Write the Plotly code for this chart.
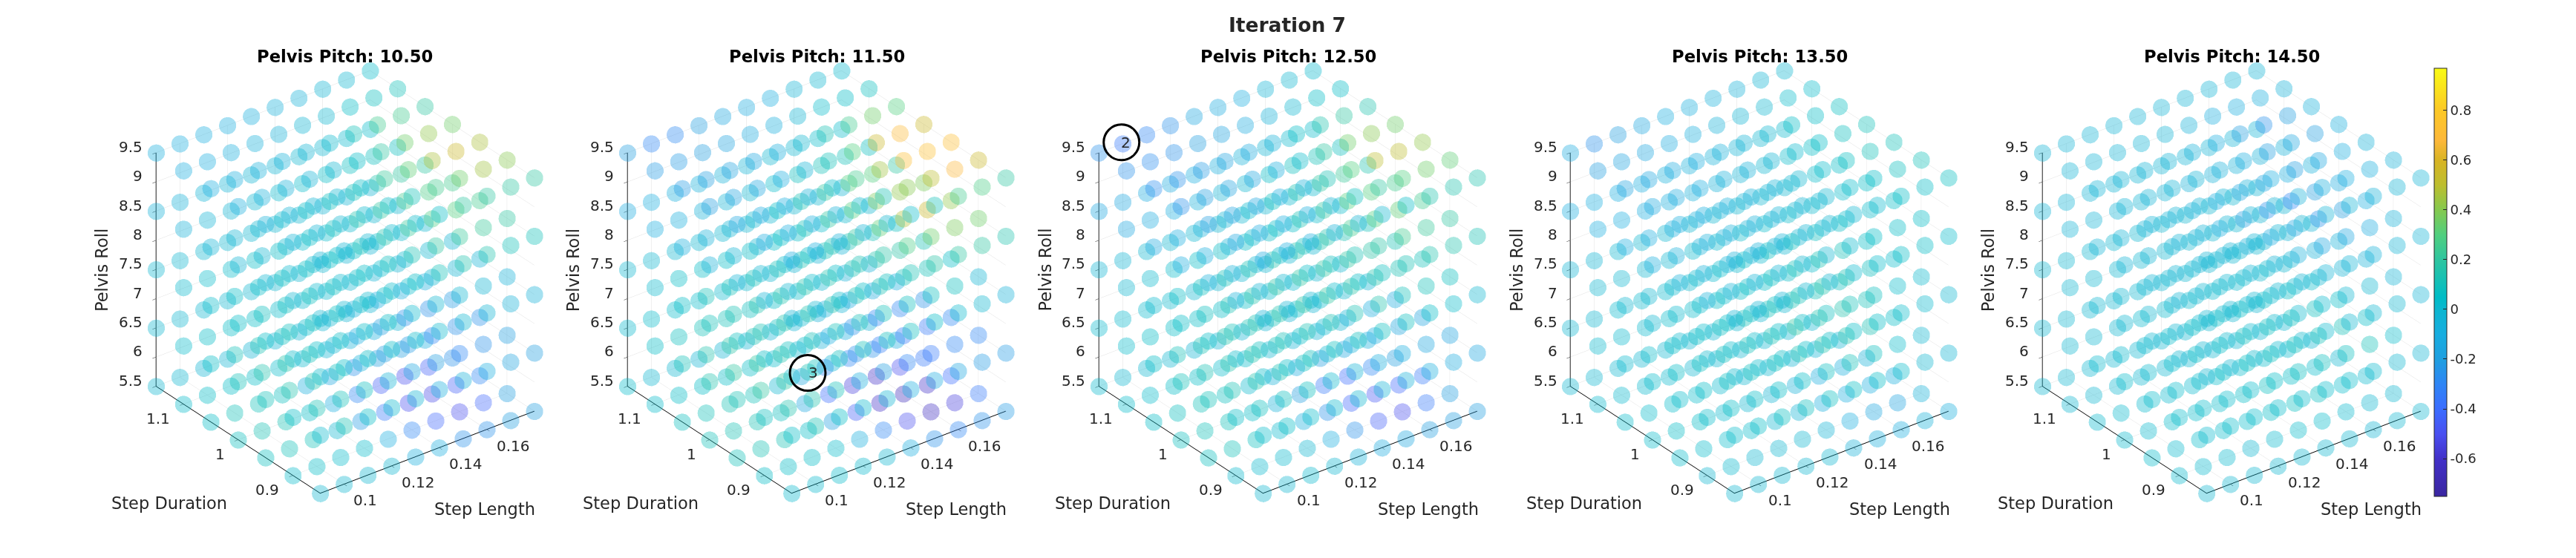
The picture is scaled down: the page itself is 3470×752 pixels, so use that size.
import plotly.graph_objects as go

step_length = [.09, .10, .11, .12, .13, .14, .15, .16, .17, .18]
step_duration = [.85, .90, .95, 1.0, 1.05, 1.10, 1.15]
pelvis_roll = [5.5, 6.5, 7.5, 8.5, 9.5]
pitch_labels = ["10.50", "11.50", "12.50", "13.50", "14.50"]
z_ticks = [5.5, 6, 6.5, 7, 7.5, 8, 8.5, 9, 9.5]
z_text = ["5.5", "6", "6.5", "7", "7.5", "8", "8.5", "9", "9.5"]
x_ticks = [.10, .12, .14, .16]
x_text = ["0.1", "0.12", "0.14", "0.16"]
y_ticks = [.9, 1.0, 1.1]
y_text = ["0.9", "1", "1.1"]
cbar_ticks = [-.6, -.4, -.2, 0, .2, .4, .6, .8]
cbar_text = ["-0.6", "-0.4", "-0.2", "0", "0.2", "0.4", "0.6", "0.8"]

# each list: roll 5.5 to 9.5, in each 7 rows of duration .85 to 1.15, each row 10 step lengths
pitch_105 = [
 .0,.0,.0,.0,-.08,-.1,-.25,-.25,-.2,-.2, .03,.05,.03,.03,-.1,-.3,-.42,-.5,-.42,-.2,
 .08,.1,.1,.0,-.22,-.35,-.5,-.52,-.45,-.3, .08,.12,.12,.05,-.1,-.3,-.45,-.5,-.45,-.25,
 .05,.1,.1,.08,-.08,-.15,-.25,-.2,-.2,-.1, .03,.05,.05,.05,.03,.02,-.02,-.05,-.08,-.03,
 .0,.0,-.02,-.02,-.02,-.02,-.02,-.02,-.02,-.02,
 .02,.12,.05,.02,-.02,-.08,-.05,-.1,-.18,-.2, .05,.12,.1,.08,-.03,-.15,-.2,-.3,-.25,-.2,
 .1,.15,.15,.08,-.05,-.2,-.22,-.3,-.25,-.25, .1,.15,.16,.1,.0,-.1,-.2,-.25,-.25,-.22,
 .05,.1,.12,.08,.03,.0,-.05,-.1,-.1,-.08, .03,.05,.05,.05,.03,.02,.02,.0,-.03,-.02,
 .0,.0,.0,.0,.0,.0,.0,.0,-.02,-.02,
 .03,.05,.05,.05,.03,.02,.0,-.02,-.05,-.05, .03,.05,.05,.05,.05,.02,.0,.0,-.02,-.05,
 .05,.08,.08,.07,.05,.05,.03,.0,-.02,-.03, .05,.08,.08,.08,.07,.05,.03,.02,.0,-.02,
 .03,.05,.05,.07,.06,.05,.05,.03,.02,.0, .02,.03,.03,.05,.05,.03,.03,.02,.0,.0,
 .0,.0,.0,.0,.0,.0,.0,-.02,-.02,-.02,
 .0,.0,.02,.03,.05,.1,.15,.15,.1,.1, .0,.02,.02,.05,.08,.12,.2,.22,.22,.2,
 .0,.02,.02,.05,.1,.15,.22,.28,.3,.25, -.02,.0,.02,.05,.08,.15,.2,.25,.28,.25,
 -.03,-.02,.0,.02,.05,.08,.1,.15,.2,.2, -.05,-.03,-.02,.0,.02,.03,.05,.07,.08,.08,
 -.05,-.05,-.03,-.03,-.02,-.02,.0,.0,.02,.03,
 -.02,-.02,.0,.02,.03,.05,.2,.2,.2,.2, -.03,-.02,.0,.02,.05,.1,.25,.35,.45,.4,
 -.05,-.03,-.02,.0,.05,.22,.32,.47,.55,.47, -.08,-.07,-.05,-.03,.0,.05,.2,.35,.42,.35,
 -.1,-.08,-.07,-.05,-.02,.02,.1,.25,.25,.2, -.1,-.1,-.08,-.07,-.05,-.02,.0,.05,.08,.1,
 -.08,-.1,-.1,-.1,-.08,-.07,-.05,-.02,.0,.03,
]
pitch_115 = [
 .02,.02,.03,.02,.0,-.1,-.25,-.3,-.25,-.22, .05,.05,.05,.03,-.08,-.3,-.5,-.62,-.55,-.35,
 .1,.12,.12,.05,-.2,-.45,-.6,-.65,-.6,-.4, .1,.12,.12,.08,-.15,-.4,-.55,-.6,-.5,-.35,
 .08,.1,.12,.1,.0,-.15,-.3,-.3,-.25,-.12, .03,.05,.05,.05,.05,.03,.0,-.05,-.1,-.05,
 .03,.0,.0,-.02,-.02,-.02,-.03,-.03,-.05,-.03,
 .05,.12,.05,.02,-.02,-.1,-.12,-.15,-.22,-.22, .08,.15,.15,.1,-.08,-.2,-.3,-.35,-.3,-.3,
 .12,.2,.2,.12,-.02,-.25,-.33,-.35,-.35,-.3, .15,.2,.2,.15,.03,-.1,-.25,-.3,-.3,-.25,
 .1,.15,.18,.12,.08,.02,-.05,-.12,-.12,-.1, .05,.08,.1,.1,.08,.05,.03,.0,-.05,-.05,
 .02,.03,.03,.03,.02,.02,.0,-.02,-.03,-.03,
 .03,.08,.08,.1,.08,.08,.05,.02,.0,-.05, .05,.08,.1,.1,.1,.1,.08,.08,.08,-.02,
 .08,.12,.15,.15,.15,.12,.12,.1,.1,.05, .1,.12,.15,.15,.15,.15,.12,.15,.18,.12,
 .05,.1,.1,.1,.1,.12,.1,.12,.1,.08, .02,.05,.05,.05,.05,.05,.05,.03,.02,.0,
 .0,.0,.0,.0,.0,.0,.0,.0,.0,-.02,
 -.02,.0,.03,.05,.08,.12,.18,.2,.2,.15, -.03,.0,.03,.05,.12,.18,.28,.35,.38,.35,
 -.03,.0,.03,.05,.12,.2,.32,.48,.55,.42, -.05,-.02,.0,.05,.1,.2,.3,.38,.42,.38,
 -.08,-.05,-.02,.0,.05,.12,.2,.3,.3,.2, -.1,-.08,-.05,-.03,.0,.03,.08,.1,.1,.08,
 -.12,-.1,-.08,-.07,-.05,-.03,.0,.0,.03,.03,
 -.1,-.08,-.05,-.03,.0,.03,.1,.25,.28,.2, -.12,-.1,-.08,-.05,.02,.12,.4,.5,.68,.55,
 -.15,-.12,-.1,-.05,.03,.25,.45,.72,.73,.72, -.2,-.18,-.15,-.1,-.03,.1,.3,.55,.7,.55,
 -.22,-.2,-.18,-.15,-.08,.0,.12,.25,.35,.3, -.22,-.22,-.2,-.18,-.12,-.08,-.02,.03,.05,.08,
 -.2,-.3,-.28,-.2,-.15,-.12,-.1,-.03,.0,.02,
]
pitch_125 = [
 .0,.0,.02,.0,-.05,-.12,-.15,-.2,-.2,-.2, .02,.02,.02,.0,-.1,-.25,-.45,-.5,-.35,-.2,
 .08,.1,.08,.02,-.08,-.25,-.42,-.47,-.42,-.35, .08,.1,.1,.05,-.05,-.2,-.35,-.4,-.3,-.2,
 .05,.08,.1,.08,.02,-.05,-.12,-.2,-.15,-.08, .03,.03,.05,.05,.03,.03,.0,-.03,-.03,-.02,
 .02,.0,.0,.0,-.02,-.02,-.02,-.02,-.02,-.02,
 .03,.05,.03,.02,.0,-.03,-.05,-.08,-.12,-.15, .05,.08,.08,.08,.02,-.03,-.08,-.1,-.15,-.18,
 .1,.12,.15,.12,.08,.0,-.05,-.1,-.15,-.18, .1,.12,.15,.15,.1,.05,.02,-.03,-.1,-.12,
 .05,.1,.12,.15,.12,.1,.05,.03,.0,-.02, .03,.05,.05,.05,.05,.05,.03,.02,.0,.0,
 .02,.02,.02,.02,.0,.0,.0,.0,.0,.0,
 .03,.05,.08,.08,.08,.08,.08,.05,.03,.0, .03,.08,.1,.12,.12,.12,.15,.1,.1,.08,
 .05,.1,.12,.15,.18,.2,.18,.15,.12,.1, .05,.08,.12,.15,.18,.2,.2,.2,.18,.12,
 .02,.05,.08,.1,.12,.15,.15,.15,.12,.1, .0,.02,.03,.05,.05,.05,.05,.05,.03,.03,
 -.02,-.02,.0,.0,.0,.0,.0,.0,.02,.02,
 -.03,-.02,.0,.03,.05,.08,.12,.15,.15,.12, -.05,-.02,.0,.05,.08,.12,.18,.25,.22,.2,
 -.07,-.05,.0,.03,.08,.15,.25,.3,.32,.25, -.1,-.08,-.03,.02,.05,.12,.2,.3,.3,.25,
 -.13,-.1,-.07,-.02,.02,.08,.12,.2,.22,.15, -.15,-.12,-.1,-.07,-.03,.0,.05,.08,.1,.08,
 -.15,-.15,-.12,-.12,-.1,-.08,-.05,-.02,.02,.03,
 -.12,-.1,-.08,-.05,-.02,.0,.05,.15,.15,.15, -.15,-.12,-.1,-.08,-.02,.08,.2,.3,.35,.32,
 -.2,-.18,-.15,-.1,-.05,.12,.3,.5,.5,.42, -.25,-.2,-.18,-.15,-.08,.03,.2,.35,.4,.35,
 -.27,-.25,-.22,-.18,-.12,-.05,.05,.15,.2,.15, -.25,-.27,-.25,-.2,-.18,-.12,-.05,.0,.05,.05,
 -.25,-.35,-.3,-.25,-.15,-.12,-.1,-.03,.0,.02,
]
pitch_135 = [
 .0,.0,.0,.0,.0,-.05,-.08,-.1,-.05,-.08, .0,.02,.0,.0,.0,-.03,-.1,-.15,-.18,-.05,
 .03,.03,.03,.03,.0,-.03,-.08,-.1,-.1,-.08, .03,.05,.05,.02,.0,-.02,-.05,-.1,-.08,-.05,
 .03,.03,.03,.03,.02,.0,.0,-.02,-.03,-.02, .02,.02,.02,.02,.0,.0,.0,.0,.0,.0,
 .0,.0,.0,.0,.0,.0,.0,.0,.0,.0,
 .03,.05,.07,.08,.07,.06,.05,.03,.0,-.02, .03,.05,.05,.05,.05,.07,.1,.08,.03,.0,
 .03,.05,.07,.08,.08,.12,.15,.15,.12,.05, .03,.05,.07,.08,.1,.12,.2,.15,.15,.1,
 .02,.03,.05,.05,.07,.1,.1,.12,.1,.08, .02,.02,.02,.03,.03,.05,.05,.05,.05,.03,
 .0,.0,.02,.02,.02,.02,.02,.02,.02,.0,
 .02,.03,.05,.05,.05,.05,.05,.03,.02,.0, .02,.03,.03,.05,.05,.08,.1,.08,.03,.02,
 .02,.03,.05,.05,.07,.1,.15,.12,.08,.03, .0,.02,.03,.03,.05,.07,.1,.12,.1,.05,
 .0,.0,.02,.02,.03,.05,.07,.08,.07,.05, .0,.0,.0,.0,.02,.02,.03,.03,.03,.02,
 -.02,-.02,.0,.0,.0,.0,.0,.0,.0,.0,
 -.02,-.02,-.02,.0,.0,.02,.03,.05,.05,.03, -.05,-.03,-.03,-.02,.0,.0,.02,.05,.05,.05,
 -.05,-.05,-.03,-.03,-.02,.0,.0,.03,.03,.05, -.08,-.07,-.05,-.05,-.03,-.03,.0,.0,.03,.05,
 -.1,-.1,-.08,-.07,-.05,-.03,-.02,.0,.03,.05, -.1,-.1,-.1,-.08,-.07,-.05,-.03,.0,.03,.05,
 -.1,-.1,-.1,-.1,-.07,-.07,-.05,-.03,.0,.02,
 -.05,-.05,-.03,-.02,.0,.0,.02,.05,.05,.07, -.07,-.05,-.05,-.03,-.02,.0,.03,.05,.08,.1,
 -.08,-.08,-.07,-.05,-.03,.0,.03,.07,.1,.1, -.13,-.12,-.1,-.07,-.05,-.02,.02,.05,.08,.1,
 -.17,-.15,-.12,-.1,-.07,-.03,.0,.05,.05,.07, -.2,-.18,-.15,-.12,-.08,-.05,-.02,.0,.03,.03,
 -.12,-.25,-.2,-.15,-.1,-.08,-.07,-.05,-.02,.0,
]
pitch_145 = [
 .0,.0,.0,.0,.0,.0,.0,-.02,.0,.0, .02,.02,.02,.0,.02,.03,.03,.02,.0,.0,
 .03,.02,.03,.03,.03,.05,.07,.07,.03,.02, .02,.02,.03,.03,.03,.05,.07,.05,.03,.0,
 .02,.02,.02,.02,.02,.03,.03,.03,.02,.0, .0,.0,.0,.0,.0,.0,.0,.0,.0,.0,
 .0,.0,.0,.0,.0,.0,.0,.0,.0,.0,
 .02,.03,.03,.03,.03,.03,.03,.02,.0,-.02, .03,.03,.03,.03,.05,.07,.08,.08,.1,.03,
 .03,.03,.03,.05,.07,.08,.08,.1,.1,.05, .03,.02,.03,.05,.05,.08,.08,.08,.08,.05,
 .02,.02,.02,.03,.05,.05,.05,.05,.05,.03, .0,.0,.0,.02,.02,.02,.02,.02,.02,.0,
 .0,.0,.0,.0,.0,.0,.0,.0,.0,.0,
 .0,.0,.02,.02,.02,.02,.0,.0,.0,-.03, .0,.0,.02,.02,.02,.02,.02,.0,.0,-.03,
 .0,.0,.02,.02,.02,.02,.02,.0,-.03,-.05, .0,.0,.0,.0,.02,.02,.02,-.02,-.05,-.05,
 .0,.0,.0,.0,.0,.0,.0,-.02,-.03,-.03, .0,.0,.0,.0,.0,.0,.0,.0,-.02,-.02,
 .0,.0,.0,.0,.0,.0,.0,.0,.0,-.02,
 .0,.0,.0,.0,-.02,-.03,-.03,-.05,-.03,-.03, -.02,.0,.0,-.02,-.03,-.07,-.15,-.15,-.12,-.05,
 -.02,-.02,-.02,-.02,-.05,-.12,-.15,-.25,-.2,-.1, -.03,-.02,-.02,-.03,-.1,-.2,-.25,-.3,-.2,-.12,
 -.03,-.03,-.03,-.03,-.05,-.1,-.15,-.15,-.1,-.07, -.03,-.03,-.03,-.02,-.03,-.05,-.05,-.05,-.05,-.05,
 -.03,-.03,-.03,-.02,-.02,-.02,-.03,-.03,-.03,-.03,
 -.02,-.02,-.02,-.02,-.02,-.03,-.03,-.05,-.03,-.03, -.03,-.03,-.02,-.03,-.03,-.05,-.08,-.1,-.08,-.05,
 -.03,-.03,-.03,-.03,-.05,-.1,-.2,-.15,-.1,-.05, -.03,-.03,-.03,-.03,-.07,-.1,-.2,-.15,-.2,-.08,
 -.03,-.03,-.03,-.03,-.05,-.1,-.2,-.25,-.2,-.07, -.03,-.03,-.03,-.03,-.03,-.05,-.1,-.1,-.08,-.05,
 -.03,-.03,-.03,-.03,-.03,-.03,-.03,-.03,-.03,-.03,
]
all_pitches = [pitch_105, pitch_115, pitch_125, pitch_135, pitch_145]

parula_like = [
 [0.0, "#3a26a0"], [0.087, "#4230c8"], [0.145, "#4a4ff0"], [0.203, "#3b6cff"],
 [0.262, "#2e85f5"], [0.32, "#1f9fe0"], [0.378, "#17ade0"], [0.436, "#0cb6d0"],
 [0.465, "#00bcc6"], [0.552, "#2ec5a0"], [0.61, "#50cf7f"], [0.669, "#85c94f"],
 [0.727, "#bdbe2f"], [0.785, "#d8b424"], [0.831, "#fdb83a"], [0.901, "#fcc826"],
 [1.0, "#f9fb15"],
]

W, H = 3470, 752
RIGHT_PANEL_DX = 635.3
CX0, CY0 = 464.5, 380
DOM_W, DOM_H = 630, 744
RADIUS = 2.15
BOX = .977
TEXT = "#262626"
FONT = "DejaVu Sans"
TICK_SIZE = 20

xs, ys, zs = [], [], []
for r in pelvis_roll:
    for d in step_duration:
        for l in step_length:
            xs.append(l); ys.append(d); zs.append(r)

def tick_label(x, y, z, text, xshift, yshift, xanchor="center"):
    return dict(x=x, y=y, z=z, text=text, showarrow=False, xshift=xshift, yshift=yshift, xanchor=xanchor,
                yanchor="middle", font=dict(size=TICK_SIZE, color=TEXT, family=FONT))

scene_labels = []
for v, t in zip(z_ticks, z_text):
    scene_labels.append(tick_label(.09, 1.15, v, t, -16, 8, "right"))
for v, t in zip(x_ticks, x_text):
    scene_labels.append(tick_label(v, .85, 5.5, t, 29 if t == "0.1" else 36, -22))
for v, t in zip(y_ticks, y_text):
    scene_labels.append(tick_label(.09, v, 5.5, t, -24 if t == "1" else -34, -19))

fig = go.Figure()
layout = dict(width=W, height=H, margin=dict(l=0, r=0, t=0, b=0), paper_bgcolor="white",
              showlegend=False, font=dict(family=FONT, color=TEXT))
annots = []
def px(x, y, text, size, bold=False, color=TEXT, angle=0):
    annots.append(dict(x=x / W, y=1 - y / H, xref="paper", yref="paper", text=f"<b>{text}</b>" if bold else text,
                       showarrow=False, font=dict(size=size, color=color, family=FONT),
                       xanchor="center", yanchor="middle", textangle=angle))

for n, (vals, lab) in enumerate(zip(all_pitches, pitch_labels)):
    sid = "scene" if n == 0 else f"scene{n+1}"
    fig.add_trace(go.Scatter3d(x=xs, y=ys, z=zs, mode="markers", scene=sid, hoverinfo="skip",
                               marker=dict(size=13.5, color=vals, coloraxis="coloraxis", opacity=.38, line=dict(width=0))))
    cx = CX0 + n * RIGHT_PANEL_DX
    axis = dict(showbackground=False, showgrid=True, gridcolor="rgba(0,0,0,0.12)", gridwidth=1, zeroline=False,
                showline=True, linecolor="#000000", linewidth=2, ticks="outside", ticklen=6, tickcolor="#222222",
                showticklabels=False, title=dict(text=""), showspikes=False)
    layout[sid] = dict(
        domain=dict(x=[(cx - DOM_W / 2) / W, (cx + DOM_W / 2) / W],
                    y=[1 - (CY0 + DOM_H / 2) / H, 1 - (CY0 - DOM_H / 2) / H]),
        aspectmode="manual", aspectratio=dict(x=BOX, y=BOX, z=BOX),
        camera=dict(projection=dict(type="orthographic"), up=dict(x=0, y=0, z=1), center=dict(x=0, y=0, z=0),
                    eye=dict(x=-.527 * RADIUS, y=-.687 * RADIUS, z=.5 * RADIUS)),
        xaxis=dict(axis, range=[.09, .18], tickvals=x_ticks, ticktext=x_text),
        yaxis=dict(axis, range=[.85, 1.15], tickvals=y_ticks, ticktext=y_text),
        zaxis=dict(axis, range=[5.5, 9.5], tickvals=z_ticks, ticktext=z_text),
        annotations=scene_labels,
    )
    d = n * RIGHT_PANEL_DX
    px(465 + d, 76, f"Pelvis Pitch: {lab}", 22.7, bold=True, color="black")
    px(137 + d, 364, "Pelvis Roll", 22.5, angle=-90)
    px(228 + d, 678, "Step Duration", 22.5)
    px(653 + d, 686, "Step Length", 22.5)

px(1734, 33, "Iteration 7", 26.5, bold=True)
px(1095, 502, "3", 20)
px(1516, 192, "2", 20)
layout["annotations"] = annots
layout["shapes"] = [
    dict(type="circle", xref="paper", yref="paper", x0=(c[0] - 24) / W, x1=(c[0] + 24) / W,
         y0=1 - (c[1] + 24) / H, y1=1 - (c[1] - 24) / H, line=dict(color="black", width=3))
    for c in [(1088, 502.6), (1510.7, 191.8)]
]
layout["coloraxis"] = dict(
    cmin=-.75, cmax=.97, colorscale=parula_like,
    colorbar=dict(x=3279 / W, xanchor="left", y=1 - 380 / H, yanchor="middle", len=576.5 / H, lenmode="fraction",
                  thickness=17, xpad=0, ypad=0, outlinecolor="#262626", outlinewidth=1, ticks="inside", ticklen=5,
                  tickcolor="#262626", tickvals=cbar_ticks, ticktext=cbar_text,
                  tickfont=dict(size=18, color=TEXT, family=FONT)),
)
fig.update_layout(**layout)
fig.write_html("out.html", config=dict(displayModeBar=False),
               post_script="document.body.style.margin='0';document.documentElement.style.overflow='hidden';")
